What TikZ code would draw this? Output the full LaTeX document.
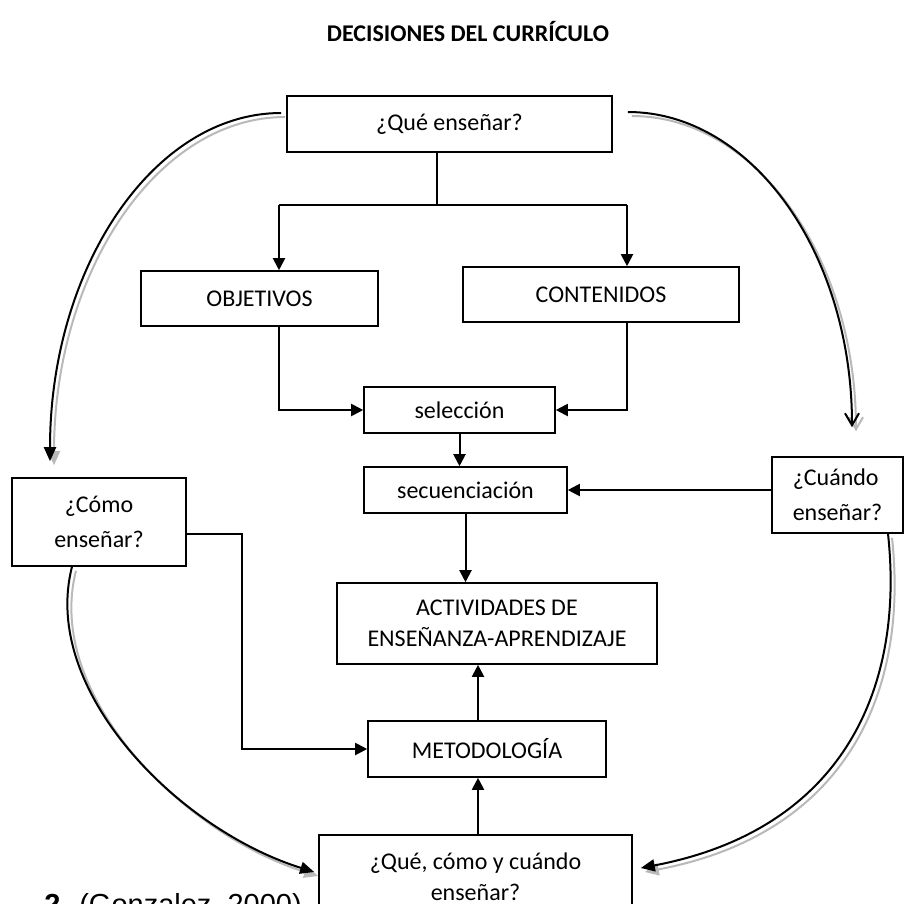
\documentclass[tikz,border=0pt]{standalone}
\usepackage{fontspec}
\setmainfont{Carlito}
\newfontfamily\refsans{Liberation Sans}
\usetikzlibrary{arrows.meta,calc,positioning}
\tikzstyle{box}=[draw,line width=0.8pt,inner sep=0pt,font=\fontsize{12}{14}\selectfont]
\tikzstyle{twoline}=[box,align=center,font=\fontsize{12}{15.5}\selectfont]
\tikzstyle{qbox}=[box,font=\fontsize{12}{17.5}\selectfont]
\tikzstyle{flow}=[line width=1pt,-{Triangle[length=6pt,width=6pt]}]
\tikzstyle{link}=[line width=1pt]
\tikzstyle{twin}=[line width=1pt,-{Triangle[length=7pt,width=6pt]}]
\tikzstyle{twin open}=[line width=1pt,-{Straight Barb[length=6pt,width=7pt]}]

\begin{document}
\begin{tikzpicture}[x=0.5pt,y=-0.5pt]
\useasboundingbox (0,0) rectangle (904,904);
\clip (0,0) rectangle (904,904);
\fill[white] (0,0) rectangle (904,904);

% % % % % % % % % % % % % % %

\node[font=\bfseries\fontsize{12}{14}\selectfont] (title) at (468,32) {DECISIONES DEL CURRÍCULO};

\node[box,minimum width=162.5pt,minimum height=28pt] (que) at (449.5,124) {¿Qué enseñar?};
\node[box,minimum width=118.5pt,minimum height=27.5pt] (obj) at (259.5,298.5) {OBJETIVOS};
\node[box,minimum width=138pt,minimum height=27.5pt] (cont) at (601,294.5) {CONTENIDOS};
\node[box,minimum width=95.5pt,minimum height=23pt] (sel) at (459.5,410) {selección};
\node[box,minimum width=101.5pt,minimum height=23pt] (sec) at (465.5,490) {secuenciación};
\node[twoline,minimum width=160pt,minimum height=40.5pt] (act) at (497,623.5) {ACTIVIDADES DE\\ENSEÑANZA-APRENDIZAJE};
\node[box,minimum width=119pt,minimum height=28pt] (met) at (487,749) {METODOLOGÍA};
\node[twoline,minimum width=156.5pt,minimum height=42pt] (qcc) at (475.5,877) {¿Qué, cómo y cuándo\\enseñar?};
\node[qbox,align=center,minimum width=87pt,minimum height=44pt] (como) at (99,522) {¿Cómo\\enseñar?};
\node[qbox,align=left,minimum width=65.5pt,minimum height=38pt] (cuando) at (837.5,495) {¿Cuándo\\enseñar?};

\node[anchor=base west,inner sep=0pt,font=\refsans\fontsize{14.5}{16}\selectfont] (src) at (44,914) {\textbf{2.} (Gonzalez, 2000)};

% tree
\coordinate (fork) at (437,205);
\coordinate (forkL) at (279,205);
\coordinate (forkR) at (627,205);
\coordinate (elbow) at (242,534);
\coordinate (spine) at (478,0);
\draw[link] (que.south -| fork) -- (fork);
\draw[link] (forkL) -- (forkR);
\draw[flow] (forkL) -- (forkL |- obj.north);
\draw[flow] (forkR) -- (forkR |- cont.north);
\draw[flow] (forkL |- obj.south) |- (sel.west);
\draw[flow] (forkR |- cont.south) |- (sel.east);
\draw[flow] (sel.south) -- (sel.south |- sec.north);
\draw[flow] (sec.south) -- (sec.south |- act.north);
\draw[flow] (cuando.west |- sec.east) -- (sec.east);
\draw[flow] (como.east |- elbow) -- (elbow) |- (met.west);
\draw[flow] (met.north -| spine) -- (act.south -| spine);
\draw[flow] (qcc.north -| spine) -- (met.south -| spine);

% double arcs
\foreach \tone/\dx/\dy in {gray!55/4/4,black/0/0} {
\begin{scope}[transform canvas={shift={(\dx,\dy)}}]
\draw[twin,\tone] ($(que.west)+(-5,-11)$) .. controls +(-128,0) and +(0,-193) .. ($(como.north)+(-49,-16)$);
\draw[twin open,\tone] ($(que.east)+(15,-12)$) .. controls +(124,0) and +(0,-174) .. ($(cuando.north)+(14.5,-29)$);
\draw[twin,\tone] ($(como.south)+(-27,0)$) .. controls +(-32,124) and +(-135,-42) .. ($(qcc.west)+(-4,-5)$);
\draw[twin,\tone] ($(cuando.south)+(50.5,0)$) .. controls +(17,157) and +(200,-38) .. ($(qcc.east)+(8,-9)$);
\end{scope}
}

\end{tikzpicture}
\end{document}
